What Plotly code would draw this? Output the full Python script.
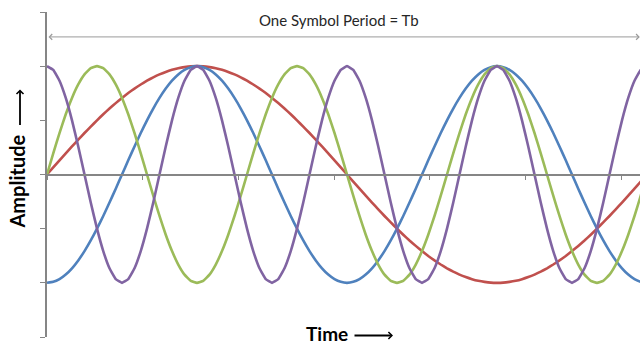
import plotly.graph_objects as go

# Time in units of one symbol period Tb (samples every Tb/96)
t = [k / 96 for k in range(97)]

red = [0, 0.065, 0.131, 0.195, 0.259, 0.321, 0.383, 0.442, 0.5, 0.556, 0.609, 0.659, 0.707, 0.752, 0.793, 0.831,
       0.866, 0.897, 0.924, 0.947, 0.966, 0.981, 0.991, 0.998, 1,
       0.998, 0.991, 0.981, 0.966, 0.947, 0.924, 0.897, 0.866, 0.831, 0.793, 0.752, 0.707, 0.659, 0.609, 0.556,
       0.5, 0.442, 0.383, 0.321, 0.259, 0.195, 0.131, 0.065, 0,
       -0.065, -0.131, -0.195, -0.259, -0.321, -0.383, -0.442, -0.5, -0.556, -0.609, -0.659, -0.707, -0.752, -0.793,
       -0.831, -0.866, -0.897, -0.924, -0.947, -0.966, -0.981, -0.991, -0.998, -1,
       -0.998, -0.991, -0.981, -0.966, -0.947, -0.924, -0.897, -0.866, -0.831, -0.793, -0.752, -0.707, -0.659, -0.609,
       -0.556, -0.5, -0.442, -0.383, -0.321, -0.259, -0.195, -0.131, -0.065, 0]

blue = [-1, -0.991, -0.966, -0.924, -0.866, -0.793, -0.707, -0.609, -0.5, -0.383, -0.259, -0.131,
        0, 0.131, 0.259, 0.383, 0.5, 0.609, 0.707, 0.793, 0.866, 0.924, 0.966, 0.991,
        1, 0.991, 0.966, 0.924, 0.866, 0.793, 0.707, 0.609, 0.5, 0.383, 0.259, 0.131,
        0, -0.131, -0.259, -0.383, -0.5, -0.609, -0.707, -0.793, -0.866, -0.924, -0.966, -0.991,
        -1, -0.991, -0.966, -0.924, -0.866, -0.793, -0.707, -0.609, -0.5, -0.383, -0.259, -0.131,
        0, 0.131, 0.259, 0.383, 0.5, 0.609, 0.707, 0.793, 0.866, 0.924, 0.966, 0.991,
        1, 0.991, 0.966, 0.924, 0.866, 0.793, 0.707, 0.609, 0.5, 0.383, 0.259, 0.131,
        0, -0.131, -0.259, -0.383, -0.5, -0.609, -0.707, -0.793, -0.866, -0.924, -0.966, -0.991, -1]

green = [0, 0.195, 0.383, 0.556, 0.707, 0.831, 0.924, 0.981, 1, 0.981, 0.924, 0.831, 0.707, 0.556, 0.383, 0.195,
         0, -0.195, -0.383, -0.556, -0.707, -0.831, -0.924, -0.981, -1, -0.981, -0.924, -0.831, -0.707, -0.556, -0.383, -0.195,
         0, 0.195, 0.383, 0.556, 0.707, 0.831, 0.924, 0.981, 1, 0.981, 0.924, 0.831, 0.707, 0.556, 0.383, 0.195,
         0, -0.195, -0.383, -0.556, -0.707, -0.831, -0.924, -0.981, -1, -0.981, -0.924, -0.831, -0.707, -0.556, -0.383, -0.195,
         0, 0.195, 0.383, 0.556, 0.707, 0.831, 0.924, 0.981, 1, 0.981, 0.924, 0.831, 0.707, 0.556, 0.383, 0.195,
         0, -0.195, -0.383, -0.556, -0.707, -0.831, -0.924, -0.981, -1, -0.981, -0.924, -0.831, -0.707, -0.556, -0.383, -0.195,
         0]

purple = [1, 0.966, 0.866, 0.707, 0.5, 0.259, 0, -0.259, -0.5, -0.707, -0.866, -0.966,
          -1, -0.966, -0.866, -0.707, -0.5, -0.259, 0, 0.259, 0.5, 0.707, 0.866, 0.966,
          1, 0.966, 0.866, 0.707, 0.5, 0.259, 0, -0.259, -0.5, -0.707, -0.866, -0.966,
          -1, -0.966, -0.866, -0.707, -0.5, -0.259, 0, 0.259, 0.5, 0.707, 0.866, 0.966,
          1, 0.966, 0.866, 0.707, 0.5, 0.259, 0, -0.259, -0.5, -0.707, -0.866, -0.966,
          -1, -0.966, -0.866, -0.707, -0.5, -0.259, 0, 0.259, 0.5, 0.707, 0.866, 0.966,
          1, 0.966, 0.866, 0.707, 0.5, 0.259, 0, -0.259, -0.5, -0.707, -0.866, -0.966,
          -1, -0.966, -0.866, -0.707, -0.5, -0.259, 0, 0.259, 0.5, 0.707, 0.866, 0.966,
          1]

series = [("red", red, "#C0504D"), ("blue", blue, "#4F81BD"),
          ("green", green, "#9BBB59"), ("purple", purple, "#8064A2")]

title_text = "One Symbol Period = Tb"
x_title = "Time"
y_title = "Amplitude"

AX = "#868686"
FONT = "Lato, DejaVu Sans"

fig = go.Figure()
for name, vals, col in series:
    fig.add_trace(go.Scatter(x=t, y=vals, mode="lines", name=name,
                             line=dict(color=col, width=2.6, shape="spline", smoothing=0.3),
                             hoverinfo="skip"))

fig.update_layout(
    width=640, height=347,
    margin=dict(l=47, r=0, t=12, b=10),
    paper_bgcolor="white", plot_bgcolor="white",
    showlegend=False,
    xaxis=dict(range=[0, 593 / 600], anchor="free", position=0.5,
               showline=True, linecolor=AX, linewidth=2,
               ticks="outside", ticklen=4, tickcolor=AX, tickwidth=1,
               tick0=0, dtick=0.1595, showticklabels=False,
               showgrid=False, zeroline=False),
    yaxis=dict(range=[-1.5, 1.5], showline=True, linecolor=AX, linewidth=2,
               ticks="outside", ticklen=5, tickcolor=AX, tickwidth=1,
               tick0=-1.5, dtick=0.5, showticklabels=False,
               showgrid=False, zeroline=False),
)

# Symbol period double arrow
fig.add_annotation(x=0.988, y=1.27, ax=0.0, ay=1.27, xref="x", yref="y",
                   axref="x", ayref="y", text="", showarrow=True,
                   arrowhead=4, startarrowhead=4, arrowside="end+start",
                   arrowsize=1.1, arrowwidth=1, arrowcolor="#9a9a9a")
fig.add_annotation(x=(339 - 47) / 600, y=1.43, xref="x", yref="y", text=title_text,
                   showarrow=False, xanchor="center", yanchor="middle",
                   font=dict(family=FONT, size=15, color="#262626"))

# Axis titles with long arrows
fig.add_annotation(x=-30 / 593, xref="paper", y=-0.065, yref="y",
                   text="<b>" + y_title + "</b>",
                   showarrow=False, textangle=-90, xanchor="center", yanchor="middle",
                   font=dict(family=FONT, size=20, color="black"))
fig.add_annotation(x=-27 / 593, xref="paper", y=0.785, yref="y",
                   ax=0, ay=37, axref="pixel", ayref="pixel",
                   text="", showarrow=True, arrowhead=4, arrowsize=0.75,
                   arrowwidth=1.8, arrowcolor="black")

fig.add_annotation(x=(327 - 47) / 600, y=-1.467, xref="x", yref="y",
                   text="<b>" + x_title + "</b>",
                   showarrow=False, xanchor="center", yanchor="middle",
                   font=dict(family=FONT, size=19, color="black"))
fig.add_annotation(x=(393 - 47) / 600, y=-1.486, xref="x", yref="y",
                   ax=-40, ay=0, axref="pixel", ayref="pixel",
                   text="", showarrow=True, arrowhead=4, arrowsize=0.75,
                   arrowwidth=1.8, arrowcolor="black")

fig.write_html("out.html", config={"displayModeBar": False},
               post_script="document.body.style.margin='0px';")
